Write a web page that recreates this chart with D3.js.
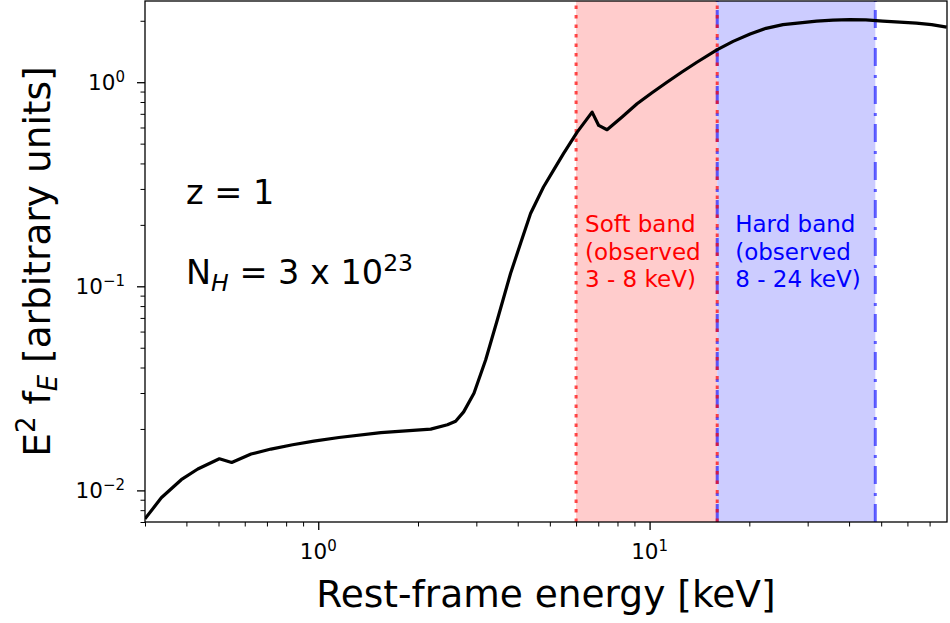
<!DOCTYPE html>
<html>
<head>
<meta charset="utf-8">
<script src="https://cdn.jsdelivr.net/npm/d3@7"></script>
<style>
  body { margin: 0; background: #fff; }
  svg { display: block; }
  text { font-family: "DejaVu Sans", sans-serif; }
</style>
</head>
<body>
<svg id="chart" width="950" height="623"></svg>
<script>
// Rest-frame spectrum, E^2 f_E vs energy (keV)
const energy = [0.30, 0.336, 0.386, 0.433, 0.503, 0.548, 0.627, 0.72, 0.837, 0.97,
  1.154, 1.545, 2.185, 2.454, 2.598, 2.747, 2.951, 3.20, 3.47, 3.805, 4.078, 4.373,
  4.784, 5.137, 5.497, 6.045, 6.707, 7.021, 7.44, 8.26, 9.166, 10.17, 11.28, 12.52,
  13.89, 15.96, 17.87, 20.11, 22.46, 25.27, 28.44, 31.93, 35.76, 40.22, 44.95, 50.57,
  56.9, 63.88, 71.0, 78.8];
const flux = [0.00725, 0.0092, 0.01128, 0.01273, 0.01429, 0.01371, 0.01507, 0.01594, 0.01673, 0.01744,
  0.01816, 0.0192, 0.01996, 0.02096, 0.0218, 0.02425, 0.02995, 0.04357, 0.0684, 0.1156, 0.162, 0.2272,
  0.3066, 0.372, 0.4466, 0.5695, 0.7135, 0.6141, 0.5852, 0.6757, 0.784, 0.8885, 1.0, 1.1216,
  1.2526, 1.440, 1.585, 1.724, 1.837, 1.915, 1.952, 1.992, 2.015, 2.026, 2.019, 1.992,
  1.970, 1.948, 1.915, 1.862];

// Observed-frame bands shifted to rest frame (z = 1)
const bandLo = [6, 16];
const bandHi = [16, 48];
const bandFill = ["#ffcccc", "#ccccff"];
const bandText = ["#ff0000", "#0000ff"];
const bandLabelOffset = [9, 18];
const bandLabels = [
  ["Soft band", "(observed", "3 - 8 keV)"],
  ["Hard band", "(observed", "8 - 24 keV)"]
];

const xDomain = [0.3, 79];
const yDomain = [0.007, 2.5];
const xMajor = [1, 10];
const yMajor = [0.01, 0.1, 1];

const W = 950, H = 623;
const m = { left: 145, top: 1, right: 3, bottom: 101 };
const iw = W - m.left - m.right, ih = H - m.top - m.bottom;

const svg = d3.select("#chart");
const g = svg.append("g").attr("transform", `translate(${m.left},${m.top})`);

const x = d3.scaleLog().domain(xDomain).range([0, iw]);
const y = d3.scaleLog().domain(yDomain).range([ih, 0]);

svg.append("defs").append("clipPath").attr("id", "plot-clip")
  .append("rect").attr("width", iw).attr("height", ih);

const plot = g.append("g").attr("clip-path", "url(#plot-clip)");

// shaded bands
plot.selectAll("rect.band").data(bandLo).join("rect")
  .attr("class", "band")
  .attr("x", (d, i) => x(bandLo[i]))
  .attr("width", (d, i) => x(bandHi[i]) - x(bandLo[i]))
  .attr("y", 0).attr("height", ih)
  .attr("fill", (d, i) => bandFill[i]);

// band edges: hard band dash-dot, soft band dotted on top
[bandLo[1], bandHi[1]].forEach(v => {
  plot.append("line")
    .attr("x1", x(v)).attr("x2", x(v)).attr("y1", ih).attr("y2", 0)
    .attr("stroke", "blue").attr("stroke-opacity", 0.6)
    .attr("stroke-width", 3).attr("stroke-dasharray", "18,8,3,9");
});
[bandLo[0], bandHi[0]].forEach(v => {
  plot.append("line")
    .attr("x1", x(v)).attr("x2", x(v)).attr("y1", ih).attr("y2", 0)
    .attr("stroke", "red").attr("stroke-opacity", 0.7)
    .attr("stroke-width", 3).attr("stroke-dasharray", "3.5,6");
});

// spectrum
const pts = energy.map((e, i) => [e, flux[i]]);
plot.append("path").datum(pts)
  .attr("fill", "none").attr("stroke", "#000").attr("stroke-width", 3.2)
  .attr("stroke-linejoin", "round")
  .attr("d", d3.line().x(d => x(d[0])).y(d => y(d[1])));

// band labels
bandLabels.forEach((lines, i) => {
  const x0 = x(bandLo[i]) + bandLabelOffset[i];
  const t = g.append("text")
    .attr("x", x0).attr("y", 231)
    .attr("fill", bandText[i]).attr("font-size", 23);
  lines.forEach((s, k) => t.append("tspan")
    .attr("x", x0).attr("dy", k === 0 ? 0 : 27.6).text(s));
});

// axes
const isMajor = v => Math.abs(Math.log10(v) - Math.round(Math.log10(v))) < 1e-9;
const xTicks = x.ticks();
const yTicks = y.ticks();

function tickAxis(axisGen, vals, size) {
  return axisGen.tickValues(vals).tickSize(size).tickFormat("");
}

const gx = g.append("g").attr("transform", `translate(0,${ih})`);
gx.append("g").call(tickAxis(d3.axisBottom(x), xTicks.filter(v => !isMajor(v)), 4.5))
  .call(s => s.selectAll("line").attr("stroke-width", 1));
gx.append("g").call(tickAxis(d3.axisBottom(x), xMajor, 8))
  .call(s => s.selectAll("line").attr("stroke-width", 1.3));

const gy = g.append("g");
gy.append("g").call(tickAxis(d3.axisLeft(y), yTicks.filter(v => !isMajor(v)), 4.5))
  .call(s => s.selectAll("line").attr("stroke-width", 1));
gy.append("g").call(tickAxis(d3.axisLeft(y), yMajor, 8))
  .call(s => s.selectAll("line").attr("stroke-width", 1.3));

g.selectAll(".domain").remove();

// frame
g.append("rect").attr("width", iw).attr("height", ih)
  .attr("fill", "none").attr("stroke", "#000").attr("stroke-width", 1.3);

// tick labels as powers of ten
function powLabel(sel, v) {
  const e = Math.round(Math.log10(v));
  sel.append("tspan").text("10");
  sel.append("tspan").attr("dy", -8).attr("font-size", 15)
    .text(e < 0 ? "\u2212" + (-e) : String(e));
}
xMajor.forEach(v => {
  const t = g.append("text").attr("x", x(v)).attr("y", ih + 37)
    .attr("text-anchor", "middle").attr("font-size", 21.5);
  powLabel(t, v);
});
yMajor.forEach(v => {
  const t = g.append("text").attr("x", -20).attr("y", y(v) + 8)
    .attr("text-anchor", "end").attr("font-size", 21.5);
  powLabel(t, v);
});

// axis titles
svg.append("text").attr("x", m.left + iw / 2).attr("y", 607)
  .attr("text-anchor", "middle").attr("font-size", 37.5)
  .text("Rest-frame energy [keV]");

const yl = svg.append("text")
  .attr("transform", `translate(50,${m.top + ih / 2}) rotate(-90)`)
  .attr("text-anchor", "middle").attr("font-size", 37.5);
yl.append("tspan").text("E");
yl.append("tspan").attr("dy", -15).attr("font-size", 26).text("2");
yl.append("tspan").attr("dy", 15).text(" f");
yl.append("tspan").attr("dy", 7).attr("font-size", 26).attr("font-style", "italic").text("E");
yl.append("tspan").attr("dy", -7).text(" [arbitrary units]");

// annotation
g.append("text").attr("x", 41).attr("y", 203).attr("font-size", 33.5).text("z = 1");
const nh = g.append("text").attr("x", 41).attr("y", 283).attr("font-size", 33.5);
nh.append("tspan").text("N");
nh.append("tspan").attr("dy", 7).attr("font-size", 23.5).attr("font-style", "italic").text("H");
nh.append("tspan").attr("dy", -7).text(" = 3 x 10");
nh.append("tspan").attr("dy", -13).attr("font-size", 23.5).text("23");
</script>
</body>
</html>
